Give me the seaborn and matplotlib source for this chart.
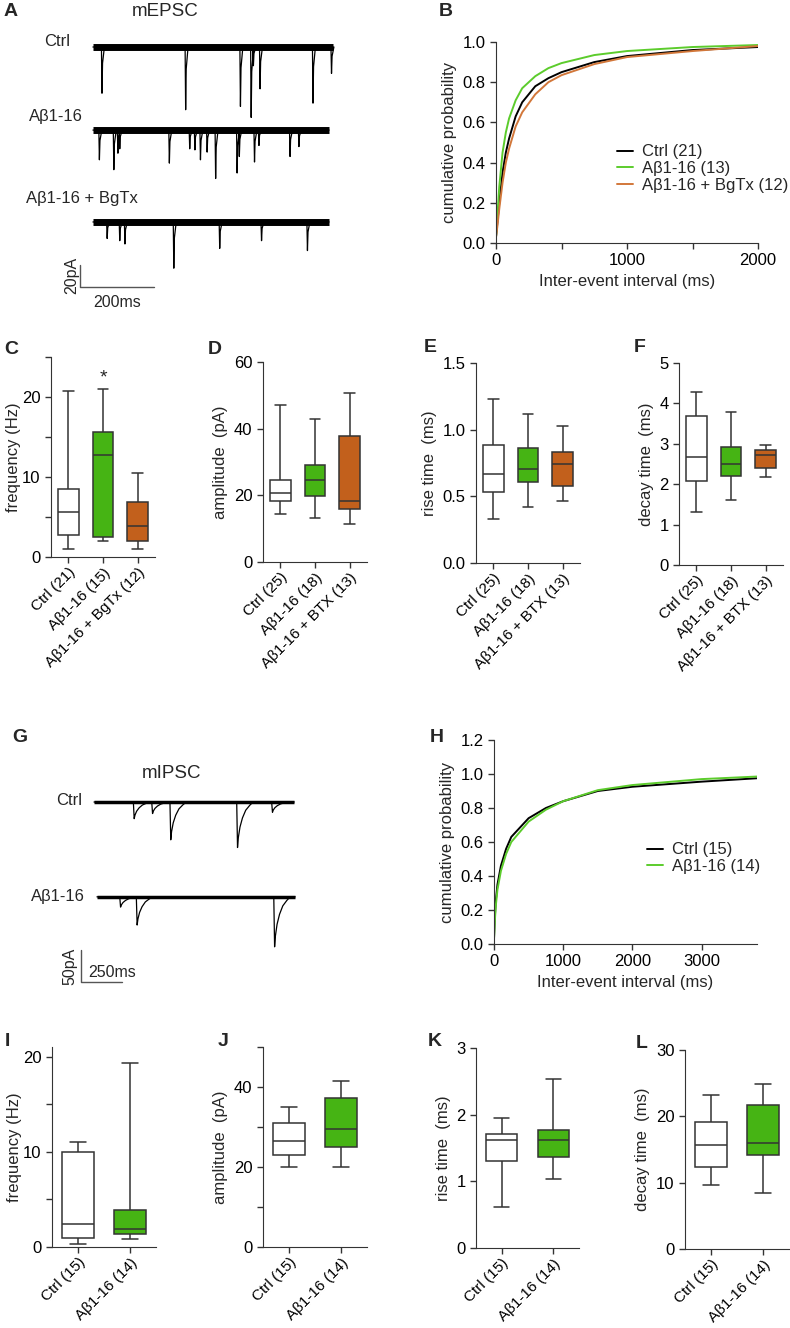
import numpy as np
import pandas as pd
import seaborn as sns
import matplotlib.pyplot as plt

# ---------------- data ----------------
# A: example mEPSC traces (event time in ms, amplitude in pA)
a_ctrl_t = [23, 249, 397, 426, 432, 450, 593, 643]
a_ctrl_amp = [42, 57, 54, 64, 17, 38, 51, 24]
a_abeta_t = [16, 55, 66, 71, 205, 260, 274, 289, 307, 330, 388, 394, 435, 447, 531, 555]
a_abeta_amp = [27, 36, 21, 17, 30, 17, 18, 27, 20, 44, 39, 24, 29, 14, 24, 15]
a_bgtx_t = [37, 71, 85, 217, 341, 454, 578]
a_bgtx_amp = [15, 17, 20, 42, 24, 17, 26]
epsc_shape_t = [0, 1.5, 3, 8]
epsc_shape_a = [0, -1, -0.35, 0]

# G: example mIPSC traces
g_ctrl_t = [240, 352, 463, 870, 1083]
g_ctrl_amp = [26, 18, 59, 71, 16]
g_abeta_t = [157, 258, 1096]
g_abeta_amp = [16, 44, 78]
ipsc_shape_t = [0, 5, 10, 20, 35, 55, 80, 100]
ipsc_shape_a = [0, -1, -0.78, -0.55, -0.35, -0.18, -0.07, 0]

# B: cumulative probability of mEPSC inter-event interval
b_interval = [0, 10, 25, 50, 75, 100, 150, 200, 300, 400, 500, 750, 1000, 1500, 2000]
b_ctrl = [0.03, 0.1, 0.2, 0.35, 0.45, 0.52, 0.63, 0.7, 0.78, 0.82, 0.85, 0.9, 0.93, 0.96, 0.975]
b_abeta = [0.03, 0.13, 0.28, 0.45, 0.55, 0.62, 0.71, 0.77, 0.83, 0.87, 0.895, 0.935, 0.955, 0.975, 0.985]
b_bgtx = [0.03, 0.08, 0.17, 0.3, 0.4, 0.47, 0.58, 0.65, 0.74, 0.8, 0.835, 0.89, 0.925, 0.955, 0.98]
b_labels = ['Ctrl (21)', 'Aβ1-16 (13)', 'Aβ1-16 + BgTx (12)']

# H: cumulative probability of mIPSC inter-event interval
h_interval = [0, 10, 25, 50, 100, 175, 250, 500, 750, 1000, 1500, 2000, 3000, 3800]
h_ctrl = [0.03, 0.14, 0.25, 0.35, 0.46, 0.56, 0.63, 0.74, 0.8, 0.84, 0.9, 0.925, 0.955, 0.975]
h_abeta = [0.03, 0.12, 0.22, 0.32, 0.43, 0.53, 0.6, 0.72, 0.79, 0.84, 0.905, 0.935, 0.97, 0.985]
h_labels = ['Ctrl (15)', 'Aβ1-16 (14)']

# box plots: [min, q1, median, q3, max] per group
c_labels = ['Ctrl (21)', 'Aβ1-16 (15)', 'Aβ1-16 + BgTx (12)']
c_freq = [[1.0, 2.7, 5.6, 8.5, 20.8], [2.0, 2.5, 12.7, 15.6, 21.0], [1.0, 2.0, 3.9, 6.9, 10.5]]
def_labels = ['Ctrl (25)', 'Aβ1-16 (18)', 'Aβ1-16 + BTX (13)']
d_amp = [[14.4, 18.2, 20.7, 24.5, 47.0], [13.3, 19.7, 24.5, 29.1, 42.9], [11.5, 16.0, 18.2, 37.9, 50.8]]
e_rise = [[0.33, 0.53, 0.667, 0.885, 1.23], [0.42, 0.607, 0.702, 0.863, 1.12], [0.467, 0.574, 0.74, 0.83, 1.026]]
f_decay = [[1.31, 2.08, 2.67, 3.69, 4.28], [1.6, 2.21, 2.5, 2.93, 3.78], [2.19, 2.4, 2.72, 2.85, 2.98]]
ijkl_labels = ['Ctrl (15)', 'Aβ1-16 (14)']
i_freq = [[0.35, 0.95, 2.46, 9.96, 11.05], [0.84, 1.4, 1.89, 3.93, 19.3]]
j_amp = [[19.9, 23.1, 26.4, 30.9, 35.1], [20.0, 25.0, 29.6, 37.3, 41.5]]
k_rise = [[0.61, 1.31, 1.62, 1.71, 1.95], [1.03, 1.36, 1.62, 1.77, 2.54]]
l_decay = [[9.7, 12.3, 15.7, 19.2, 23.2], [8.4, 14.1, 16.0, 21.7, 24.8]]

box_colors = ['white', '#46b414', '#c2601c']
line_colors = ['black', '#5ccc2c', '#d2773a']
dark = '#333333'

# ---------------- style ----------------
sns.set_style('ticks')
plt.rcParams['font.family'] = ['Liberation Sans', 'DejaVu Sans']
plt.rcParams['axes.edgecolor'] = dark
plt.rcParams['xtick.color'] = dark
plt.rcParams['ytick.color'] = dark
plt.rcParams['xtick.labelcolor'] = 'black'
plt.rcParams['ytick.labelcolor'] = 'black'

TICK = 12
LAB = 12

W, H = 790, 1328
fig = plt.figure(figsize=(W / 100, H / 100), dpi=100)


def add_ax(l, t, r, b):
    return fig.add_axes([l / W, 1 - b / H, (r - l) / W, (b - t) / H])


def letter(x, y, s):
    fig.text(x / W, 1 - y / H, s, fontsize=14, fontweight='bold', ha='center', va='center')


def ftext(x, y, s, **kw):
    fig.text(x / W, 1 - y / H, s, ha='center', va='center', **kw)


def trace_xy(t0, t1, ev_t, ev_amp, shape_t, shape_a, offset):
    xs, ys = [t0], [offset]
    for te, amp in zip(ev_t, ev_amp):
        for dt, a in zip(shape_t, shape_a):
            xs.append(te + dt)
            ys.append(offset + amp * a)
    xs.append(t1)
    ys.append(offset)
    return xs, ys


def draw_trace(ax, t0, t1, ev_t, ev_amp, shape_t, shape_a, offset, band):
    xs, ys = trace_xy(t0, t1, ev_t, ev_amp, shape_t, shape_a, offset)
    ax.plot([t0, t1], [offset, offset], color='black', lw=band, solid_capstyle='butt')
    ax.plot(xs, ys, color='black', lw=0.9)


def box_panel(ax, labels, stats, ylim, yticks, ylabel, minor=None, ticklabels=None, ypad=4):
    df = pd.DataFrame({'group': np.repeat(labels, 5), 'value': np.concatenate(stats)})
    sns.boxplot(data=df, x='group', y='value', hue='group', order=labels,
                palette=box_colors[:len(labels)], saturation=1, whis=(0, 100),
                width=0.6, linecolor=dark, linewidth=1.1, legend=False, ax=ax)
    ax.set_ylim(*ylim)
    ax.set_xlim(-0.5, len(labels) - 0.5)
    ax.set_yticks(yticks)
    if ticklabels:
        ax.set_yticklabels(ticklabels)
    if minor:
        ax.set_yticks(minor, minor=True)
    ax.tick_params(which='both', length=4, width=1, labelsize=TICK)
    ax.tick_params(axis='x', pad=2)
    ax.set_xticks(range(len(labels)))
    ax.set_xticklabels(labels, rotation=45, ha='right', rotation_mode='anchor', fontsize=11)
    ax.set_xlabel('')
    ax.set_ylabel(ylabel, fontsize=LAB, labelpad=ypad)
    sns.despine(ax=ax)


def cum_panel(ax, interval, curves, labels, xlim, ylim, yticks, xticks, xminor, leg_anchor):
    rows = []
    for lab, vals in zip(labels, curves):
        rows.append(pd.DataFrame({'interval': interval, 'prob': vals, 'group': lab}))
    df = pd.concat(rows)
    sns.lineplot(data=df, x='interval', y='prob', hue='group', hue_order=labels,
                 palette=line_colors[:len(labels)], linewidth=1.4, errorbar=None, ax=ax)
    ax.set_xlim(*xlim)
    ax.set_ylim(*ylim)
    ax.set_yticks(yticks)
    ax.set_yticklabels([f'{v:.1f}' for v in yticks])
    ax.set_xticks(xticks)
    ax.set_xticks(xminor, minor=True)
    ax.tick_params(which='both', length=4, width=1, labelsize=TICK)
    ax.set_xlabel('Inter-event interval (ms)', fontsize=LAB)
    ax.set_ylabel('cumulative probability', fontsize=LAB)
    h, l = ax.get_legend_handles_labels()
    ax.legend(h, l, loc='center left', bbox_to_anchor=leg_anchor, frameon=False,
              handlelength=1.0, handletextpad=0.5, labelspacing=0.1, fontsize=12,
              borderaxespad=0, borderpad=0)
    sns.despine(ax=ax)


# ---------------- A: mEPSC traces ----------------
axA = add_ax(0, 25, 395, 310)
axA.set_xlim(-251, 816)
axA.set_ylim(-239, 20)
axA.axis('off')
draw_trace(axA, 0, 649, a_ctrl_t, a_ctrl_amp, epsc_shape_t, epsc_shape_a, 0, 5)
draw_trace(axA, 0, 638, a_abeta_t, a_abeta_amp, epsc_shape_t, epsc_shape_a, -75.5, 5)
draw_trace(axA, 0, 638, a_bgtx_t, a_bgtx_amp, epsc_shape_t, epsc_shape_a, -159, 5)
axA.plot([-35, -35, 165], [-198, -218, -218], color='#555555', lw=1)
axA.text(-57, -208, '20pA', rotation=90, ha='center', va='center', fontsize=11.5)
axA.text(65, -232, '200ms', ha='center', va='center', fontsize=11.5)
letter(11, 11, 'A')
ftext(165, 11, 'mEPSC', fontsize=13.5)
ftext(57, 42, 'Ctrl', fontsize=12)
ftext(56, 117, 'Aβ1-16', fontsize=12)
ftext(82, 199, 'Aβ1-16 + BgTx', fontsize=12)

# ---------------- B ----------------
axB = add_ax(496, 42, 758, 243)
cum_panel(axB, b_interval, [b_ctrl, b_abeta, b_bgtx], b_labels, (0, 2000), (0, 1.0),
          [0, 0.2, 0.4, 0.6, 0.8, 1.0], [0, 1000, 2000], [500, 1500], (0.46, 0.37))
letter(446, 11, 'B')

# ---------------- C-F ----------------
axC = add_ax(51, 357, 155, 557)
box_panel(axC, c_labels, c_freq, (0, 25), [0, 10, 20], 'frequency (Hz)',
          minor=[5, 15, 25], ypad=1)
axC.text(1, 22.4, '*', ha='center', va='center', fontsize=14)
letter(11, 349, 'C')

axD = add_ax(263, 362, 367, 562)
box_panel(axD, def_labels, d_amp, (0, 60), [0, 20, 40, 60], 'amplitude  (pA)')
letter(215, 349, 'D')

axE = add_ax(476, 363, 580, 563)
box_panel(axE, def_labels, e_rise, (0, 1.5), [0, 0.5, 1.0, 1.5], 'rise time  (ms)',
          ticklabels=['0.0', '0.5', '1.0', '1.5'])
letter(430, 348, 'E')

axF = add_ax(679, 363, 783, 565)
box_panel(axF, def_labels, f_decay, (0, 5), [0, 1, 2, 3, 4, 5], 'decay time  (ms)')
letter(640, 348, 'F')

# ---------------- G: mIPSC traces ----------------
axG = add_ax(0, 760, 395, 1000)
axG.set_xlim(-573, 1835)
axG.set_ylim(-309, 65.6)
axG.axis('off')
draw_trace(axG, 0, 1220, g_ctrl_t, g_ctrl_amp, ipsc_shape_t, ipsc_shape_a, 0, 2.5)
draw_trace(axG, 18, 1226, g_abeta_t, g_abeta_amp, ipsc_shape_t, ipsc_shape_a, -148, 2.5)
axG.plot([-79, -79, 171], [-231, -281, -281], color='#555555', lw=1)
axG.text(-146, -256, '50pA', rotation=90, ha='center', va='center', fontsize=11.5)
axG.text(110, -266, '250ms', ha='center', va='center', fontsize=11.5)
letter(20, 737, 'G')
ftext(172, 774, 'mIPSC', fontsize=13.5)
ftext(69, 800, 'Ctrl', fontsize=12)
ftext(58, 896, 'Aβ1-16', fontsize=12)

# ---------------- H ----------------
axH = add_ax(494, 740, 757, 944)
cum_panel(axH, h_interval, [h_ctrl, h_abeta], h_labels, (0, 3800), (0, 1.2),
          [0, 0.2, 0.4, 0.6, 0.8, 1.0, 1.2], [0, 1000, 2000, 3000], [], (0.58, 0.42))
letter(437, 738, 'H')

# ---------------- I-L ----------------
axI = add_ax(52, 1047, 156, 1247)
box_panel(axI, ijkl_labels, i_freq, (0, 21), [0, 10, 20], 'frequency (Hz)',
          minor=[5, 15], ypad=1)
letter(7, 1042, 'I')

axJ = add_ax(263, 1047, 367, 1247)
box_panel(axJ, ijkl_labels, j_amp, (0, 50), [0, 20, 40], 'amplitude  (pA)', minor=[10, 30, 50])
letter(223, 1042, 'J')

axK = add_ax(476, 1048, 579, 1248)
box_panel(axK, ijkl_labels, k_rise, (0, 3), [0, 1, 2, 3], 'rise time  (ms)')
letter(435, 1042, 'K')

axL = add_ax(685, 1050, 789, 1249)
box_panel(axL, ijkl_labels, l_decay, (0, 30), [0, 10, 20, 30], 'decay time  (ms)')
letter(642, 1044, 'L')

fig.savefig('out.png', dpi=100)
